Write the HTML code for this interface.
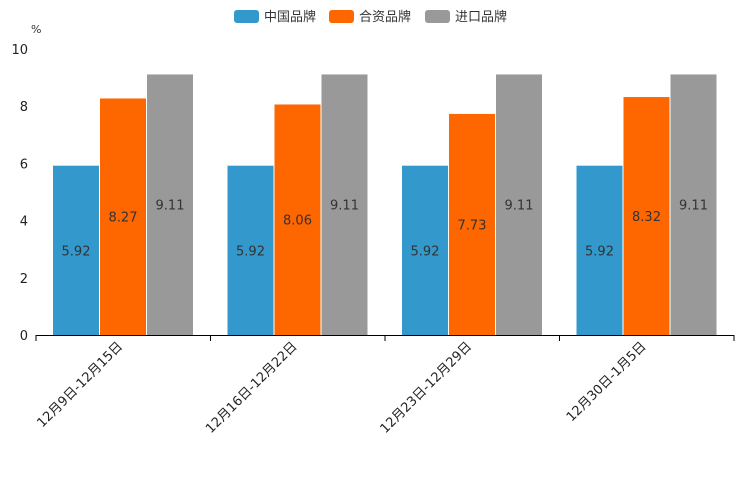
<!DOCTYPE html>
<html><head><meta charset="utf-8"><style>
body{margin:0;background:#fff}
svg text{font-family:"DejaVu Sans","Noto Sans CJK SC",sans-serif}
</style></head><body>
<svg id="c" width="744" height="496" xmlns="http://www.w3.org/2000/svg">
<g font-size="13" fill="#333">
<g><rect x="234" y="10" width="25" height="13" rx="3" fill="#3398cc"/><text x="264" y="21">中国品牌</text></g>
<g><rect x="329" y="10" width="25" height="13" rx="3" fill="#fe6600"/><text x="359" y="21">合资品牌</text></g>
<g><rect x="425" y="10" width="25" height="13" rx="3" fill="#999999"/><text x="455" y="21">进口品牌</text></g>
</g>
<text x="31" y="33" font-size="11" fill="#333">%</text>
<g id="yt"></g><g id="bars"></g><g id="xt"></g>
</svg>
<script>
const categories=["12月9日-12月15日","12月16日-12月22日","12月23日-12月29日","12月30日-1月5日"];
const china=[5.92,5.92,5.92,5.92];
const jv=[8.27,8.06,7.73,8.32];
const imported=[9.11,9.11,9.11,9.11];
const yTicks=[0,2,4,6,8,10];
const NS="http://www.w3.org/2000/svg";
const x0=36,x1=734,yb=335,yt=49,ymax=10;
const y=v=>yb-(v/ymax)*(yb-yt);
const gw=(x1-x0)/categories.length;
function mk(p,t,a){const e=document.createElementNS(NS,t);for(const k in a)e.setAttribute(k,a[k]);p.appendChild(e);return e;}
const YT=document.getElementById('yt'),B=document.getElementById('bars'),XT=document.getElementById('xt');
yTicks.forEach(v=>{const t=mk(YT,'text',{x:28,y:y(v)+5,'text-anchor':'end','font-size':13,fill:'#222'});t.textContent=v;

});
const ax=mk(XT,'line',{x1:x0,x2:x1,y1:yb+0.5,y2:yb+0.5,stroke:'#000'});


for(let i=0;i<=categories.length;i++){mk(XT,'line',{x1:x0+i*gw,x2:x0+i*gw,y1:yb,y2:yb+6,stroke:'#000'});}
const series=[[china,'#3398cc','china'],[jv,'#fe6600','jv'],[imported,'#999999','import']];
categories.forEach((c,i)=>{
 const gx=x0+i*gw+17;
 series.forEach(([arr,col,nm],j)=>{
  const bx=gx+j*47,v=arr[i];
  const r=mk(B,'rect',{x:bx,y:y(v),width:46,height:yb-y(v),fill:col});
  
  
  const t=mk(B,'text',{x:bx+23,y:(y(v)+yb)/2+5,'text-anchor':'middle','font-size':13,fill:'#333'});
  t.textContent=v.toFixed(2);
  
  
 });
 const cx=x0+(i+0.5)*gw;
 const t=mk(XT,'text',{x:cx,y:yb+12,'text-anchor':'end','font-size':13,fill:'#222',transform:`rotate(-45 ${cx} ${yb+12})`});
 t.textContent=c;
 
 
});
</script>
</body></html>
